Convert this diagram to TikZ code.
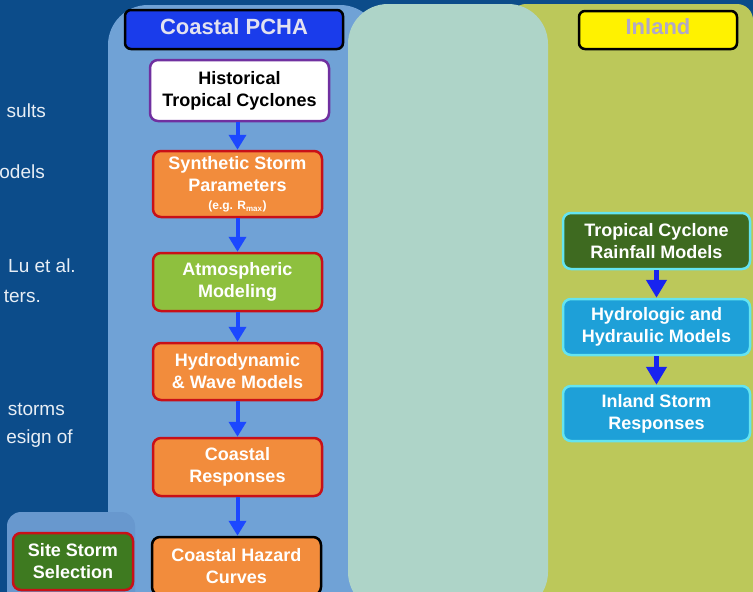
\documentclass[tikz,border=0pt]{standalone}
\usepackage{fontspec}
\setmainfont{Liberation Sans}
\usetikzlibrary{arrows.meta}
\definecolor{deepblue}{RGB}{12,76,138}
\definecolor{coastpanel}{RGB}{112,162,214}
\definecolor{midpanel}{RGB}{174,212,200}
\definecolor{inpanel}{RGB}{188,200,90}
\definecolor{sitepanel}{RGB}{104,152,206}
\definecolor{hdrblue}{RGB}{26,60,235}
\definecolor{hdrtext}{RGB}{226,226,240}
\definecolor{inltext}{RGB}{176,168,200}
\definecolor{boxorange}{RGB}{242,140,60}
\definecolor{boxgreen}{RGB}{142,192,62}
\definecolor{boxdkgreen}{RGB}{62,122,32}
\definecolor{raingreen}{RGB}{62,106,32}
\definecolor{boxcyan}{RGB}{30,160,216}
\definecolor{edgecyan}{RGB}{100,228,240}
\definecolor{edgered}{RGB}{200,16,24}
\definecolor{edgepurple}{RGB}{112,48,160}
\definecolor{flowblue}{RGB}{28,72,255}
\definecolor{flowinland}{RGB}{24,36,240}
\definecolor{sidetext}{RGB}{232,238,245}
\tikzset{
  x=1pt, y=-1pt,
  boxtxt/.style={font=\fontsize{18}{22}\selectfont\bfseries, align=center, text=white},
  procbox/.style={boxtxt, rounded corners=8pt, line width=2.5pt, inner sep=0pt},
  coastbox/.style={procbox, draw=edgered, fill=boxorange, minimum width=169pt},
  inlandbox/.style={procbox, draw=edgecyan, fill=boxcyan, minimum width=187pt, minimum height=56pt},
  hdrbox/.style={rounded corners=6pt, line width=2.5pt, draw=black, inner sep=0pt,
    font=\fontsize{22}{26}\selectfont\bfseries},
  flow/.style={draw=flowblue, line width=4pt, -{Triangle[width=17pt,length=15pt]}},
  inflow/.style={draw=flowinland, line width=5pt, -{Triangle[width=20pt,length=18pt]}},
  sidenote/.style={font=\fontsize{19}{22}\selectfont, text=sidetext, anchor=base east, inner sep=0pt}
}
\begin{document}
\begin{tikzpicture}
\useasboundingbox (0,0) rectangle (753,592);
% background bands
\fill[deepblue] (0,0) rectangle (753,592);
\fill[coastpanel, rounded corners=40pt] (108,5) rectangle (380,640);
\fill[inpanel, rounded corners=16pt] (510,4) rectangle (753,640);
\fill[midpanel, rounded corners=40pt] (348,4) rectangle (548,612);
\fill[sitepanel, rounded corners=14pt] (7,512) rectangle (135,620);

% clipped notes on the left
\node[sidenote] (n1) at (46,117) {sults};
\node[sidenote] (n2) at (45,178) {odels};
\node[sidenote] (n3) at (76,272) {Lu et al.};
\node[sidenote] (n4) at (41,302) {ters.};
\node[sidenote] (n5) at (65,415) {storms};
\node[sidenote] (n6) at (73,443) {esign of};

% column headers
\node[hdrbox, fill=hdrblue, text=hdrtext, minimum width=218pt, minimum height=39pt] (hcoast) at (234,29.5) {\raisebox{6pt}{Coastal PCHA}};
\node[hdrbox, fill=yellow, text=inltext, minimum width=158pt, minimum height=38pt] (hinland) at (658,30) {\raisebox{7pt}{Inland}};

% coastal chain
\node[procbox, draw=edgepurple, fill=white, text=black, minimum width=179pt, minimum height=61pt] (hist) at (239.5,90.5) {Historical\\Tropical Cyclones};
\node[coastbox, minimum height=66pt] (synth) at (237.5,184) {Synthetic Storm\\Parameters\\[-4pt]{\fontsize{12}{13}\selectfont(e.g. R\textsubscript{max})}};
\node[coastbox, fill=boxgreen, minimum height=58pt] (atmos) at (237.5,282) {Atmospheric\\Modeling};
\node[coastbox, minimum height=57pt] (hydro) at (237.5,371.5) {Hydrodynamic\\\& Wave Models};
\node[coastbox, minimum height=58pt] (resp) at (237.5,467) {Coastal\\Responses};
\node[coastbox, draw=black, minimum height=58pt] (hazard) at (236.5,566) {Coastal Hazard\\Curves};
\node[coastbox, fill=boxdkgreen, minimum width=120pt, minimum height=57pt] (site) at (73,561.5) {Site Storm\\Selection};

% inland chain
\node[inlandbox, fill=raingreen] (rain) at (656.5,241) {Tropical Cyclone\\Rainfall Models};
\node[inlandbox] (hh) at (656.5,327) {Hydrologic and\\Hydraulic Models};
\node[inlandbox, minimum height=55pt] (inresp) at (656.5,413.5) {Inland Storm\\Responses};

% flow arrows
\draw[flow] (hist.south -| synth) -- (synth.north);
\draw[flow] (synth) -- (atmos);
\draw[flow] (atmos) -- (hydro);
\draw[flow] (hydro) -- (resp);
\draw[flow] (resp.south) -- (resp.south |- hazard.north);
\draw[inflow] (rain) -- (hh);
\draw[inflow] (hh) -- (inresp);
\end{tikzpicture}
\end{document}
